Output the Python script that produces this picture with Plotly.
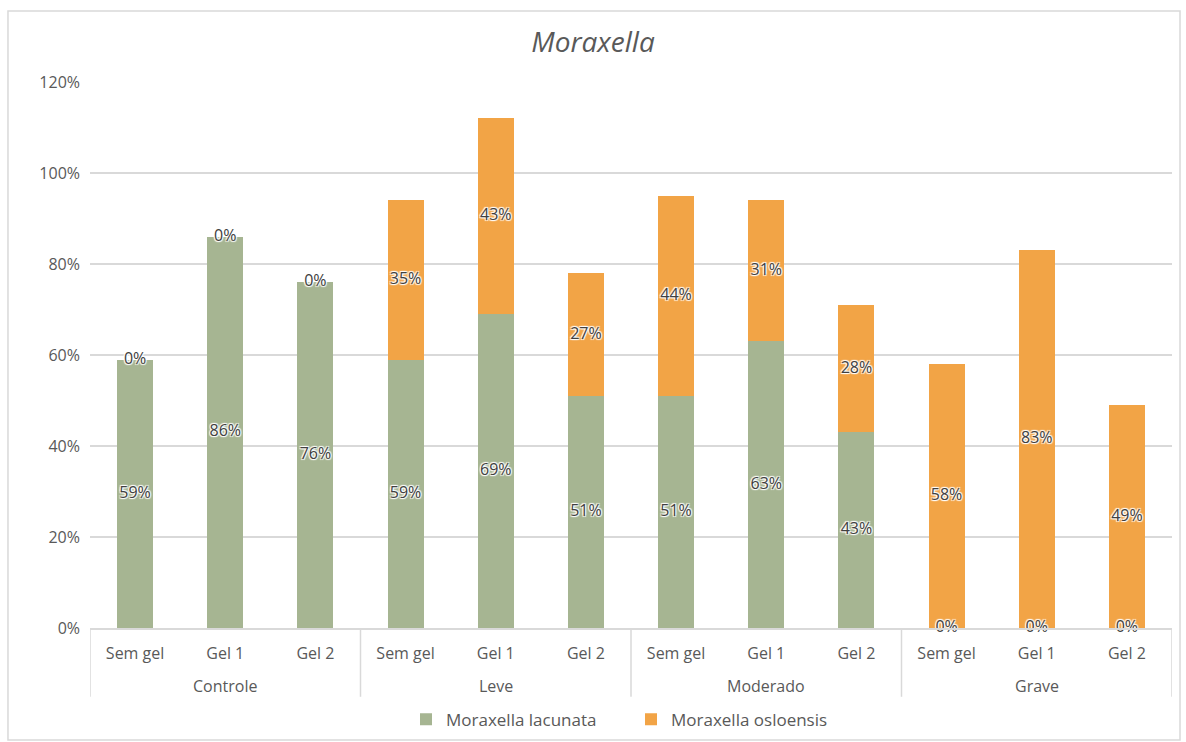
import plotly.graph_objects as go

# Groups (severity) and treatments
groups = ["Controle", "Leve", "Moderado", "Grave"]
treatments = ["Sem gel", "Gel 1", "Gel 2"]

# Relative abundance per group/treatment
lacunata = [0.59, 0.86, 0.76, 0.59, 0.69, 0.51, 0.51, 0.63, 0.43, 0.00, 0.00, 0.00]
osloensis = [0.00, 0.00, 0.00, 0.35, 0.43, 0.27, 0.44, 0.31, 0.28, 0.58, 0.83, 0.49]

series_names = ["Moraxella lacunata", "Moraxella osloensis"]
colors = ["#A6B592", "#F2A446"]

# One category per group/treatment pair, shown with the treatment name
cats = [f"{g} | {t}" for g in groups for t in treatments]
tick_text = [t for _ in groups for t in treatments]
n_t = len(treatments)

FONT = "Open Sans, sans-serif"
AXIS_GRAY = "#D9D9D9"
TEXT_GRAY = "#595959"

fig = go.Figure()
fig.add_trace(go.Bar(x=cats, y=lacunata, name=series_names[0],
                     marker=dict(color=colors[0], line=dict(width=0)),
                     hoverinfo="skip"))
fig.add_trace(go.Bar(x=cats, y=osloensis, name=series_names[1],
                     marker=dict(color=colors[1], line=dict(width=0)),
                     hoverinfo="skip"))

# Centered value labels for each segment (also for empty segments)
halo = "1px 1px 1px #fff, -1px -1px 1px #fff, 1px -1px 1px #fff, -1px 1px 1px #fff"
label_font = dict(family=FONT, size=16, color="#404040", shadow=halo)
lac_mid = [v / 2 for v in lacunata]
osl_mid = [a + b / 2 for a, b in zip(lacunata, osloensis)]
for mids, vals in [(lac_mid, lacunata), (osl_mid, osloensis)]:
    fig.add_trace(go.Scatter(x=cats, y=mids, mode="text",
                             text=[f"{round(v * 100)}%" for v in vals],
                             textposition="middle center", textfont=label_font,
                             showlegend=False, hoverinfo="skip", cliponaxis=False))

# Group names under the treatment labels, with dividers between groups
annotations = []
shapes = [dict(type="rect", xref="paper", yref="paper",
               x0=-0.0758, x1=1.0074, y0=-0.205, y1=1.130,
               line=dict(color=AXIS_GRAY, width=1.5), layer="below")]
for gi, g in enumerate(groups):
    annotations.append(dict(x=cats[gi * n_t + n_t // 2], y=-0.106, xref="x", yref="paper",
                            text=g, showarrow=False, yanchor="middle",
                            font=dict(family=FONT, size=16, color=TEXT_GRAY)))
for b in range(len(groups) + 1):
    pos = b * n_t - 0.5
    shapes.append(dict(type="line", xref="x", yref="paper", x0=pos, x1=pos,
                       y0=0, y1=-0.126, line=dict(color=AXIS_GRAY, width=1.5)))

fig.update_layout(
    width=1186, height=742,
    barmode="stack", bargap=0.6,
    paper_bgcolor="white", plot_bgcolor="white",
    margin=dict(l=90, r=14, t=82, b=114, autoexpand=False),
    title=dict(text="<i>Moraxella</i>", x=0.5, xanchor="center",
               y=1 - 42 / 742, yanchor="middle", yref="container",
               font=dict(family=FONT, size=28, color=TEXT_GRAY)),
    font=dict(family=FONT, color=TEXT_GRAY),
    legend=dict(orientation="h", x=0.5, xanchor="center", y=-0.168, yanchor="middle",
                font=dict(size=17, color=TEXT_GRAY), itemsizing="constant",
                itemwidth=30, entrywidth=180, entrywidthmode="pixels",
                traceorder="normal"),
    annotations=annotations,
    shapes=shapes,
)
fig.update_yaxes(range=[0, 1.2], dtick=0.2, tickformat=".0%",
                 showgrid=True, gridcolor=AXIS_GRAY, gridwidth=1.5,
                 zeroline=False, showline=False, ticks="",
                 tickfont=dict(size=16, color=TEXT_GRAY), ticklabelstandoff=9)
fig.update_xaxes(type="category", categoryorder="array", categoryarray=cats,
                 range=[-0.5, len(cats) - 0.5],
                 tickvals=cats, ticktext=tick_text,
                 showline=True, linecolor=AXIS_GRAY, linewidth=1.5,
                 showgrid=False, ticks="",
                 tickfont=dict(size=16, color=TEXT_GRAY), ticklabelstandoff=10)

fig.write_html("out.html")
